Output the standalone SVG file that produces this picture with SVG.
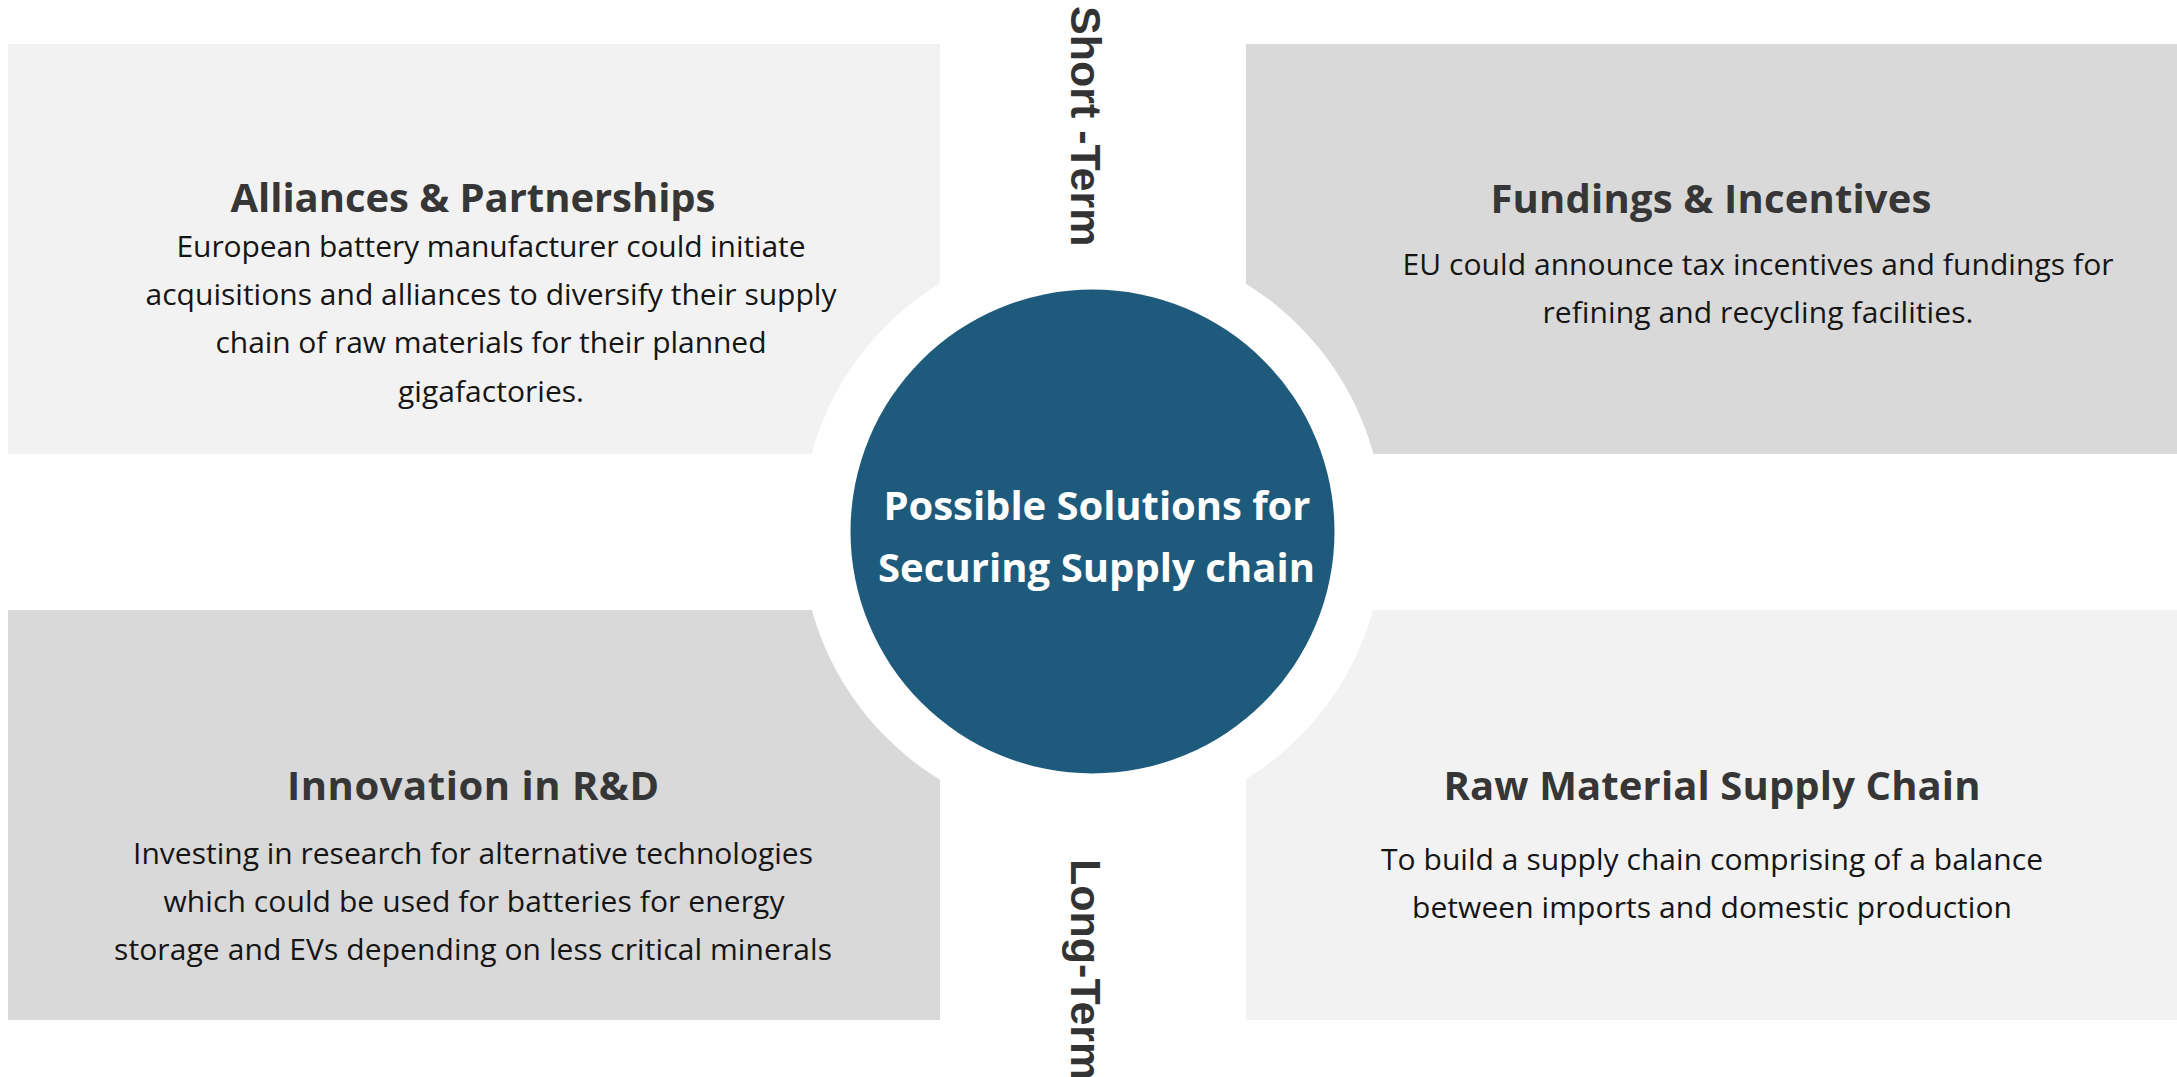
<svg xmlns="http://www.w3.org/2000/svg" width="2177" height="1077" viewBox="0 0 2177 1077">
<style>
.light{fill:#f2f2f2}
.dark{fill:#d9d9d9}
.title{font-family:"Open Sans","Noto Sans",sans-serif;font-weight:700;font-size:40px;fill:#363636;text-anchor:middle}
.body{font-family:"Open Sans","Noto Sans",sans-serif;font-weight:400;font-size:30px;fill:#151515;text-anchor:middle}
.hub{font-family:"Open Sans","Noto Sans",sans-serif;font-weight:700;font-size:40px;fill:#ffffff;text-anchor:middle}
.term{font-family:"Liberation Sans",Arial,sans-serif;font-weight:700;font-size:43px;fill:#333333}
</style>
<rect width="2177" height="1077" fill="#ffffff"/>
<g id="alliances">
<rect class="light" x="8" y="44" width="932" height="410"/>
<text class="title" x="473" y="212" textLength="485">Alliances &amp; Partnerships</text>
<text class="body" x="491" y="257" textLength="629">European battery manufacturer could initiate</text>
<text class="body" x="491" y="305" textLength="691">acquisitions and alliances to diversify their supply</text>
<text class="body" x="491" y="353" textLength="551">chain of raw materials for their planned</text>
<text class="body" x="491" y="402" textLength="186">gigafactories.</text>
</g>
<g id="fundings">
<rect class="dark" x="1246" y="44" width="931" height="410"/>
<text class="title" x="1711" y="213" textLength="441">Fundings &amp; Incentives</text>
<text class="body" x="1758" y="275" textLength="711">EU could announce tax incentives and fundings for</text>
<text class="body" x="1758" y="323" textLength="431">refining and recycling facilities.</text>
</g>
<g id="innovation">
<rect class="dark" x="8" y="610" width="932" height="410"/>
<text class="title" x="473" y="800" textLength="372">Innovation in R&amp;D</text>
<text class="body" x="473" y="864" textLength="680">Investing in research for alternative technologies</text>
<text class="body" x="474" y="912" textLength="621">which could be used for batteries for energy</text>
<text class="body" x="473" y="960" textLength="718">storage and EVs depending on less critical minerals</text>
</g>
<g id="rawmaterial">
<rect class="light" x="1246" y="610" width="931" height="410"/>
<text class="title" x="1712" y="800" textLength="537">Raw Material Supply Chain</text>
<text class="body" x="1712" y="870" textLength="662">To build a supply chain comprising of a balance</text>
<text class="body" x="1712" y="918" textLength="600">between imports and domestic production</text>
</g>
<g id="hub">
<circle cx="1092.5" cy="531.5" r="291.5" fill="#ffffff"/>
<circle cx="1092.5" cy="531.5" r="242" fill="#1e5a7b"/>
<text class="hub" x="1097" y="520" textLength="427">Possible Solutions for</text>
<text class="hub" x="1096.5" y="582" textLength="437">Securing Supply chain</text>
</g>
<g id="short-term">
<text class="term" transform="translate(1071,6) rotate(90)">Short -Term</text>
</g>
<g id="long-term">
<text class="term" transform="translate(1071,859) rotate(90)">Long-Term</text>
</g>
<g id="connectors"></g>
</svg>
